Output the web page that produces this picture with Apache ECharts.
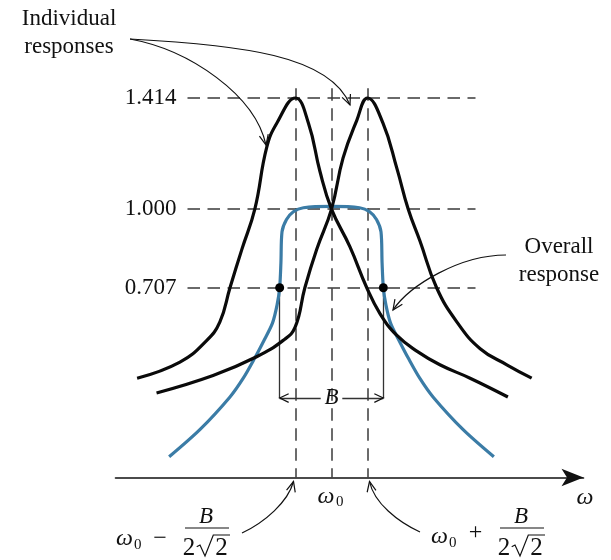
<!DOCTYPE html>
<html><head><meta charset="utf-8">
<script src="https://cdn.jsdelivr.net/npm/echarts@6/dist/echarts.min.js"></script>
<style>html,body{margin:0;padding:0;background:#fff}#c{width:611px;height:560px}</style>
</head><body><div id="c"></div>
<script>
// ---------- data (x in units of B/(2*sqrt2) measured from w0; y = relative response) ----------
const levelValues = [1.414, 1.000, 0.707];
const levelLabels = ['1.414', '1.000', '0.707'];
const markerX = [-1, 0, 1];            // w0 - B/(2√2), w0, w0 + B/(2√2)
const bandEdgeX = [-1.44, 1.44];       // w0 ± B/2 (half-power points)
const halfPower = 0.707;
const bArrowY = 0.296;

const ind1X = [-5.40, -4.21, -3.47, -3.10, -2.82, -2.49, -2.13, -1.80, -1.52, -1.00, -0.64, -0.32, 0.00, 0.51, 0.98, 1.35, 1.81, 2.38, 3.01, 3.85, 4.90];
const ind1Y = [0.37, 0.43, 0.51, 0.58, 0.707, 0.85, 1.00, 1.23, 1.32, 1.414, 1.32, 1.14, 1.00, 0.86, 0.707, 0.61, 0.53, 0.47, 0.42, 0.37, 0.30];

const ind2X = [-4.86, -3.29, -2.08, -1.35, -1.01, -0.74, -0.41, 0.00, 0.32, 0.70, 1.00, 1.43, 1.82, 2.13, 2.46, 2.92, 3.48, 4.13, 4.87, 5.56];
const ind2Y = [0.315, 0.38, 0.45, 0.51, 0.56, 0.707, 0.85, 1.00, 1.19, 1.33, 1.414, 1.32, 1.15, 1.00, 0.88, 0.707, 0.58, 0.48, 0.42, 0.37];

const overallX = [-4.51, -3.65, -2.82, -2.46, -2.14, -1.89, -1.64, -1.51, -1.44, -1.405, -1.375, -1.25, -1.06, -0.78, 0.00, 0.78, 1.06, 1.25, 1.375, 1.405, 1.44, 1.51, 1.64, 1.89, 2.14, 2.46, 2.82, 3.65, 4.51];
const overallY = [0.077, 0.179, 0.300, 0.368, 0.443, 0.507, 0.575, 0.644, 0.707, 0.80, 0.915, 0.961, 0.990, 1.005, 1.010, 1.005, 0.990, 0.961, 0.915, 0.80, 0.707, 0.644, 0.575, 0.507, 0.443, 0.368, 0.300, 0.179, 0.077];

// ---------- layout / style ----------
const SERIF = "'Liberation Serif','Times New Roman',serif";
const INK = '#111111';
const BLUE = '#3b7ca6';
const DASH = '#3a3a3a';
const guideXStart = -4.0, guideXEnd = 4.0, guideTop = 1.45;

const pairs = (xs, ys) => xs.map((x, i) => [x, ys[i]]);

const guideData = [];
levelValues.forEach(v => guideData.push({coords: [[guideXStart, v], [guideXEnd, v]]}));
markerX.forEach(x => guideData.push({coords: [[x, guideTop], [x, 0]]}));

const bandData = [];
bandEdgeX.forEach(x => bandData.push({coords: [[x, halfPower], [x, bArrowY]]}));
bandData.push({coords: [[bandEdgeX[0], bArrowY], [-0.30, bArrowY]]});
bandData.push({coords: [[0.30, bArrowY], [bandEdgeX[1], bArrowY]]});

const chart = echarts.init(document.getElementById('c'), null, {renderer: 'canvas'});

const curveCommon = {type: 'line', showSymbol: false, silent: true};

const option = {
  animation: false,
  backgroundColor: '#fff',
  grid: {left: 115.5, right: 27.5, top: 48.06, bottom: 82.5, containLabel: false, outerBoundsMode: 'none'},
  xAxis: {
    type: 'value', min: -6, max: 7,
    axisLine: {show: true, onZero: false, symbol: ['none', 'arrow'], symbolSize: [13, 22],
      lineStyle: {color: '#111', width: 1.6}},
    axisTick: {show: false}, axisLabel: {show: false}, splitLine: {show: false}
  },
  yAxis: {type: 'value', min: 0, max: 1.6, show: false, splitLine: {show: false}},
  series: [
    {type: 'lines', coordinateSystem: 'cartesian2d', silent: true, z: 1,
      lineStyle: {color: DASH, width: 1.5, type: [12.5, 7.5], opacity: 1}, data: guideData},
    {type: 'lines', coordinateSystem: 'cartesian2d', silent: true, z: 1,
      lineStyle: {color: '#333', width: 1.3, type: 'solid', opacity: 1}, data: bandData},
    Object.assign({}, curveCommon, {name: 'Overall response', z: 2, smooth: 0.3,
      lineStyle: {color: BLUE, width: 3.2}, data: pairs(overallX, overallY)}),
    Object.assign({}, curveCommon, {name: 'Individual 1', z: 3, smooth: 0.45,
      lineStyle: {color: '#0a0a0a', width: 3.2}, data: pairs(ind1X, ind1Y)}),
    Object.assign({}, curveCommon, {name: 'Individual 2', z: 3, smooth: 0.45,
      lineStyle: {color: '#0a0a0a', width: 3.2}, data: pairs(ind2X, ind2Y)}),
    {type: 'scatter', silent: true, z: 5, symbolSize: 9, itemStyle: {color: '#000', opacity: 1},
      data: bandEdgeX.map(x => [x, halfPower])}
  ]
};
chart.setOption(option);

// ---------- annotations ----------
const P = (x, y) => chart.convertToPixel({gridIndex: 0}, [x, y]);
function head(tip, from, len, ang) {
  len = len || 11; ang = ang || 0.42;
  const dx = tip[0] - from[0], dy = tip[1] - from[1], L = Math.hypot(dx, dy);
  const ux = dx / L, uy = dy / L, c = Math.cos(ang), s = Math.sin(ang);
  const b1 = [tip[0] - len * (ux * c - uy * s), tip[1] - len * (uy * c + ux * s)];
  const b2 = [tip[0] - len * (ux * c + uy * s), tip[1] - len * (uy * c - ux * s)];
  return {type: 'polyline', silent: true, z: 10, shape: {points: [b1, tip, b2]},
    style: {stroke: INK, lineWidth: 1.2, fill: null}};
}
function curveArrow(p0, c1, c2, p3) {
  return [
    {type: 'bezierCurve', silent: true, z: 10,
      shape: {x1: p0[0], y1: p0[1], cpx1: c1[0], cpy1: c1[1], cpx2: c2[0], cpy2: c2[1], x2: p3[0], y2: p3[1]},
      style: {stroke: INK, lineWidth: 1.2, fill: null}},
    head(p3, c2)
  ];
}
function txt(x, y, t, size, italic, align) {
  return {type: 'text', silent: true, z: 10, x: x, y: y,
    style: {text: t, font: (italic ? 'italic ' : '') + size + 'px ' + SERIF, fill: INK,
      align: align || 'center', verticalAlign: 'middle'}};
}
function line(x1, y1, x2, y2, w) {
  return {type: 'line', silent: true, z: 10, shape: {x1: x1, y1: y1, x2: x2, y2: y2},
    style: {stroke: INK, lineWidth: w || 1.2}};
}
function radicalFrac(dx) {
  return [
    txt(206 + dx, 517, 'B', 23, true),
    line(185 + dx, 528, 229 + dx, 528, 1.2),
    txt(189 + dx, 548, '2', 25, false),
    {type: 'polyline', silent: true, z: 10,
      shape: {points: [[196.7 + dx, 546.7], [200 + dx, 545], [205 + dx, 556], [213.3 + dx, 535], [230 + dx, 535]]},
      style: {stroke: INK, lineWidth: 1.2, fill: null}},
    txt(221.5 + dx, 548, '2', 25, false)
  ];
}

const g = [];
// level labels
levelValues.forEach((v, i) => {
  const p = P(guideXStart, v);
  g.push(txt(p[0] - 11, p[1], levelLabels[i], 23, false, 'right'));
});
// B label
const bc = P(0, bArrowY);
g.push(txt(bc[0], bc[1], 'B', 23, true));
// Individual responses label + arrows
g.push(txt(69, 19, 'Individual', 23, false));
g.push(txt(69, 46.7, 'responses', 23, false));
g.push(...curveArrow([130, 39], [190, 50], [255, 95], [266, 145]));
g.push(...curveArrow([130, 39], [240, 45], [330, 55], [350, 105]));
// Overall response label + arrow
g.push(txt(559, 247.4, 'Overall', 23, false));
g.push(txt(559, 275.4, 'response', 23, false));
g.push(...curveArrow([506, 255], [460, 255], [410, 285], [393, 310]));
// B arrowheads
const bl = P(bandEdgeX[0], bArrowY), br = P(bandEdgeX[1], bArrowY);
g.push(head(bl, [bl[0] + 10, bl[1]], 10, 0.45));
g.push(head(br, [br[0] - 10, br[1]], 10, 0.45));
// axis labels
const w0 = P(0, 0);
g.push(txt(w0[0] - 14, 497, 'ω', 24, true, 'left'));
g.push(txt(w0[0] + 4.5, 502, '0', 15, false, 'left'));
g.push(txt(585, 498, 'ω', 24, true));
// lower-left label  w0 - B/(2√2)
g.push(txt(116, 539, 'ω', 24, true, 'left'));
g.push(txt(134, 545, '0', 15, false, 'left'));
g.push(txt(160, 539, '−', 24, false));
g.push(...radicalFrac(0));
const tl = P(markerX[0], 0);
g.push(...curveArrow([242, 533], [265, 522], [288, 502], [tl[0] - 2, tl[1] + 4]));
// lower-right label  w0 + B/(2√2)
g.push(txt(431, 537, 'ω', 24, true, 'left'));
g.push(txt(449, 543, '0', 15, false, 'left'));
g.push(txt(475.5, 533, '+', 24, false));
g.push(...radicalFrac(315));
const tr = P(markerX[2], 0);
g.push(...curveArrow([420, 532], [398, 522], [374, 503], [tr[0] + 2, tr[1] + 4]));

chart.setOption({graphic: {elements: g}});
</script>
</body></html>
